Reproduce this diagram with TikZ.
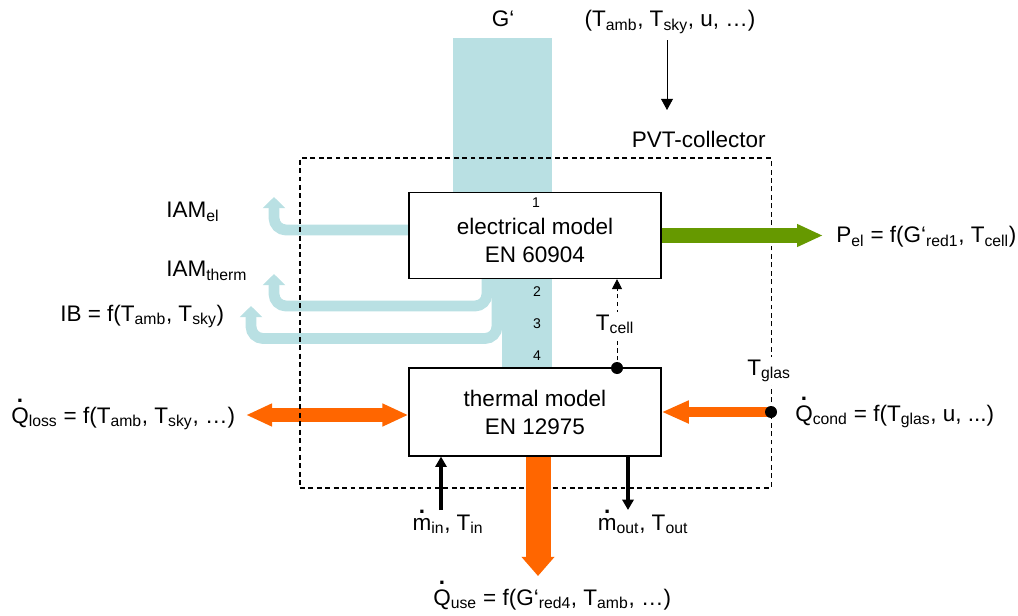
\documentclass[tikz,border=0pt]{standalone}
\usepackage{fontspec}
\setmainfont{Liberation Sans}
\usepackage{xcolor}
\usepackage{tikz}
\usetikzlibrary{positioning,arrows.meta,calc}

\definecolor{glight}{RGB}{185,224,227}
\definecolor{porange}{RGB}{255,102,0}
\definecolor{pgreen}{RGB}{102,153,0}

\newsavebox\dotbox
\newcommand\dotted[2]{\sbox\dotbox{#2}\rlap{\makebox[\wd\dotbox]{\raisebox{#1}{\textbf{.}}}}\usebox\dotbox}
\newcommand\sub[1]{\textsubscript{#1}}

\begin{document}
\begin{tikzpicture}[x=0.025cm, y=-0.025cm,
  every node/.style={font=\fontsize{16}{19.9}\selectfont, align=center, inner sep=0pt},
  modelbox/.style={draw, fill=white, line width=0.8pt, minimum width=6.3cm, minimum height=#1},
  numtag/.style={font=\fontsize{10}{12}\selectfont},
  irrflow/.style={draw=glight, line width=0.27cm, rounded corners=0.3cm,
                  -{Triangle[length=0.28cm, width=0.55cm]}},
  heatflow/.style={draw=porange, line width=#1},
  sigline/.style={line width=0.6pt, -{Triangle[length=0.28cm, width=0.3cm]}},
  massflow/.style={line width=2.3pt, -{Triangle[length=0.26cm, width=0.28cm]}},
  tempdot/.style={circle, fill=black, minimum size=0.3cm},
  ]
  \useasboundingbox (0,0) rectangle (1018,616);

  % irradiance G' through the collector
  \fill[glight] (453,38) rectangle (552,200);
  \fill[glight] (502,270) rectangle (552,368);

  \coordinate (b1) at (460,230);
  \coordinate (b2) at (487,272);
  \coordinate (b3) at (497,272);
  \coordinate (iamEl) at (274,197);
  \coordinate (iamTh) at (274,274);
  \coordinate (ibEnd) at (251,306);
  \draw[irrflow] (b1) -| (iamEl);
  \draw[irrflow] (b2) -- (487,306) -| (iamTh);
  \draw[irrflow] (b3) -- (497,338.5) -| (ibEnd);

  % models
  \node[modelbox=2.15cm] (elec) at (535,235.5) {};
  \node (elecTxt) at (535,240) {electrical model\\EN 60904};
  \node[modelbox=2.2cm] (therm) at (535,412) {thermal model\\EN 12975};

  \node[numtag] (n1) at (536,203) {1};
  \node[numtag] (n2) at (537,292) {2};
  \node[numtag] (n3) at (537,324) {3};
  \node[numtag] (n4) at (537,356) {4};

  % heat losses
  \coordinate (lossEnd) at (246,415);
  \draw[heatflow=0.35cm, {Triangle[length=0.65cm, width=0.53cm]}-{Triangle[length=0.65cm, width=0.53cm]}]
    (lossEnd) -- (lossEnd -| therm.west);

  % collector boundary
  \node[draw, line width=0.8pt, dash pattern=on 3.5pt off 2.5pt,
        minimum width=11.775cm, minimum height=8.25cm] (pvt) at (535.5,323) {};
  \node[anchor=base east] (pvtLbl) at (766,148) {PVT-collector};
  \node[anchor=base, fill=white, inner sep=2pt] (tglas) at (769,375) {T\sub{glas}};

  % outputs
  \coordinate (pelEnd) at (823,235.5);
  \draw[draw=pgreen, line width=0.35cm, -{Triangle[length=0.65cm, width=0.53cm]}]
    (elec.east) -- (elec.east -| pelEnd);

  \coordinate (glasPt) at (771,412);
  \draw[heatflow=0.25cm, -{Triangle[length=0.68cm, width=0.53cm]}]
    (glasPt) -- (glasPt -| therm.east);
  \node[tempdot] (glasDot) at (glasPt) {};

  \coordinate (useEnd) at (538,576);
  \draw[heatflow=0.625cm, -{Triangle[length=0.48cm, width=0.8cm]}]
    (useEnd |- therm.south) -- (useEnd);

  % cell temperature
  \coordinate (cellPt) at (617,368);
  \draw[line width=0.6pt, dash pattern=on 3pt off 2.5pt, -{Triangle[length=0.25cm, width=0.25cm]}]
    (cellPt) -- (cellPt |- elec.south);
  \node[anchor=base, fill=white, inner sep=2pt] (tcell) at (615,330) {T\sub{cell}};
  \node[tempdot] (cellDot) at (cellPt) {};

  % mass flow
  \coordinate (minStart) at (441,510);
  \coordinate (moutEnd) at (628,510);
  \draw[massflow] (minStart) -- (minStart |- therm.south);
  \draw[massflow] (moutEnd |- therm.south) -- (moutEnd);
  \node[anchor=base] (minLbl) at (448,530) {\dotted{0.72em}{m}\sub{in}, T\sub{in}};
  \node[anchor=base] (moutLbl) at (643,530) {\dotted{0.72em}{m}\sub{out}, T\sub{out}};

  % inputs on top
  \node[anchor=base] (gin) at (503,27) {G‘};
  \node[anchor=base] (env) at (670,27) {(T\sub{amb}, T\sub{sky}, u, …)};
  \coordinate (envEnd) at (667,110);
  \draw[sigline] ($(env.south -| envEnd)+(0,6)$) -- (envEnd);

  % result labels
  \node[anchor=base west] (iamElLbl) at (166,218) {IAM\sub{el}};
  \node[anchor=base west] (iamThLbl) at (166,277) {IAM\sub{therm}};
  \node[anchor=base west] (ibLbl) at (60,321) {IB = f(T\sub{amb}, T\sub{sky})};
  \node[anchor=base west] (pelLbl) at (836,243) {P\sub{el} = f(G‘\sub{red1}, T\sub{cell})};
  \node[anchor=base west] (lossLbl) at (11,423) {\dotted{0.9em}{Q}\sub{loss} = f(T\sub{amb}, T\sub{sky}, …)};
  \node[anchor=base west] (condLbl) at (795,421) {\dotted{0.9em}{Q}\sub{cond} = f(T\sub{glas}, u, ...)};
  \node[anchor=base west] (useLbl) at (433,605) {\dotted{0.9em}{Q}\sub{use} = f(G‘\sub{red4}, T\sub{amb}, …)};
\end{tikzpicture}
\end{document}
